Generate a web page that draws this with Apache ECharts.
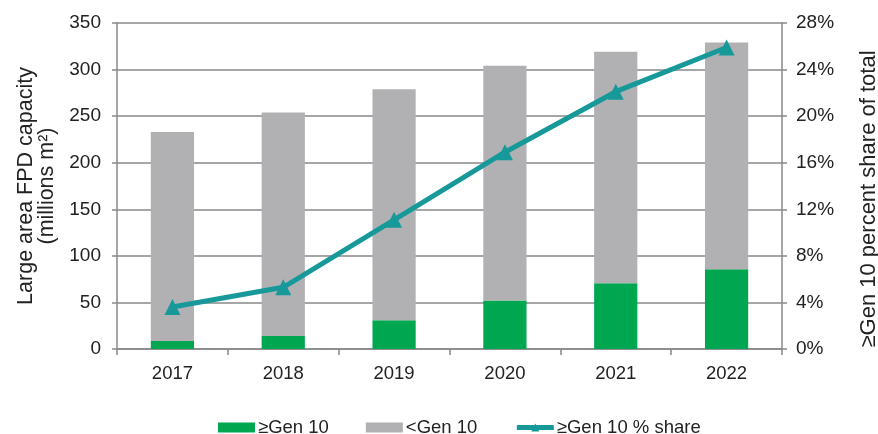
<!DOCTYPE html>
<html><head><meta charset="utf-8">
<script src="https://cdn.jsdelivr.net/npm/echarts@6/dist/echarts.min.js"></script>
<style>html,body{margin:0;padding:0;background:#fff}#c{width:878px;height:434px}</style>
</head><body><div id="c"></div>
<script>
var categories = ['2017','2018','2019','2020','2021','2022'];
var gen10 = [8.6, 14, 31, 52, 70.5, 85.5];
var total = [233, 254, 279, 304, 319, 329];
var below10 = total.map(function(t,i){return +(t-gen10[i]).toFixed(1);});
var share = [3.6, 5.3, 11.1, 16.9, 22.1, 25.9];

var chart = echarts.init(document.getElementById('c'));
var font = 'Liberation Sans, Arial, sans-serif';
chart.setOption({
  animation:false,
  textStyle:{fontFamily:font},
  grid:{left:117,right:96,top:23,bottom:85,containLabel:false,outerBoundsMode:'none'},
  legend:{top:413,left:213,itemGap:37,itemWidth:37,itemHeight:10,
    textStyle:{fontSize:18.5,color:'#222',fontFamily:font,padding:[0,0,0,-2]},
    data:[{name:'≥Gen 10',icon:'rect'},{name:'<Gen 10',icon:'rect'},{name:'≥Gen 10 % share',lineStyle:{width:5}}]},
  xAxis:{type:'category',data:categories,
    axisLine:{lineStyle:{color:'#888',width:1.5}},
    axisTick:{show:true,alignWithLabel:false,length:6,lineStyle:{color:'#888',width:1.5}},
    axisLabel:{fontSize:18.5,color:'#222',margin:15,fontFamily:font}},
  yAxis:[{type:'value',min:0,max:350,interval:50,
    name:'Large area FPD capacity\n(millions m²)',nameLocation:'middle',nameRotate:90,nameGap:58,
    nameTextStyle:{fontSize:21.5,color:'#222',lineHeight:21,fontFamily:font},
    axisLine:{show:true,lineStyle:{color:'#888',width:1.5}},
    axisTick:{show:true,length:5,lineStyle:{color:'#888',width:1.5}},
    splitLine:{lineStyle:{color:'#888',width:1.5}},
    axisLabel:{fontSize:19,color:'#222',margin:16,fontFamily:font}},
   {type:'value',min:0,max:28,interval:4,position:'right',
    name:'≥Gen 10 percent share of total',nameLocation:'middle',nameRotate:90,nameGap:76,
    nameTextStyle:{fontSize:22,color:'#222',fontFamily:font,padding:[0,26,0,0]},
    axisLine:{show:true,lineStyle:{color:'#888',width:1.5}},
    axisTick:{show:true,length:5,lineStyle:{color:'#888',width:1.5}},
    splitLine:{show:false},
    axisLabel:{fontSize:19,color:'#222',margin:14,formatter:'{value}%',fontFamily:font}}],
  series:[
    {name:'≥Gen 10',type:'bar',stack:'a',data:gen10,barWidth:'39%',itemStyle:{color:'#00a650'}},
    {name:'<Gen 10',type:'bar',stack:'a',data:below10,barWidth:'39%',itemStyle:{color:'#b1b1b4'}},
    {name:'≥Gen 10 % share',type:'line',yAxisIndex:1,data:share,symbol:'triangle',symbolSize:16,
     lineStyle:{color:'#17999a',width:5},itemStyle:{color:'#17999a'}}
  ]
});
</script></body></html>
